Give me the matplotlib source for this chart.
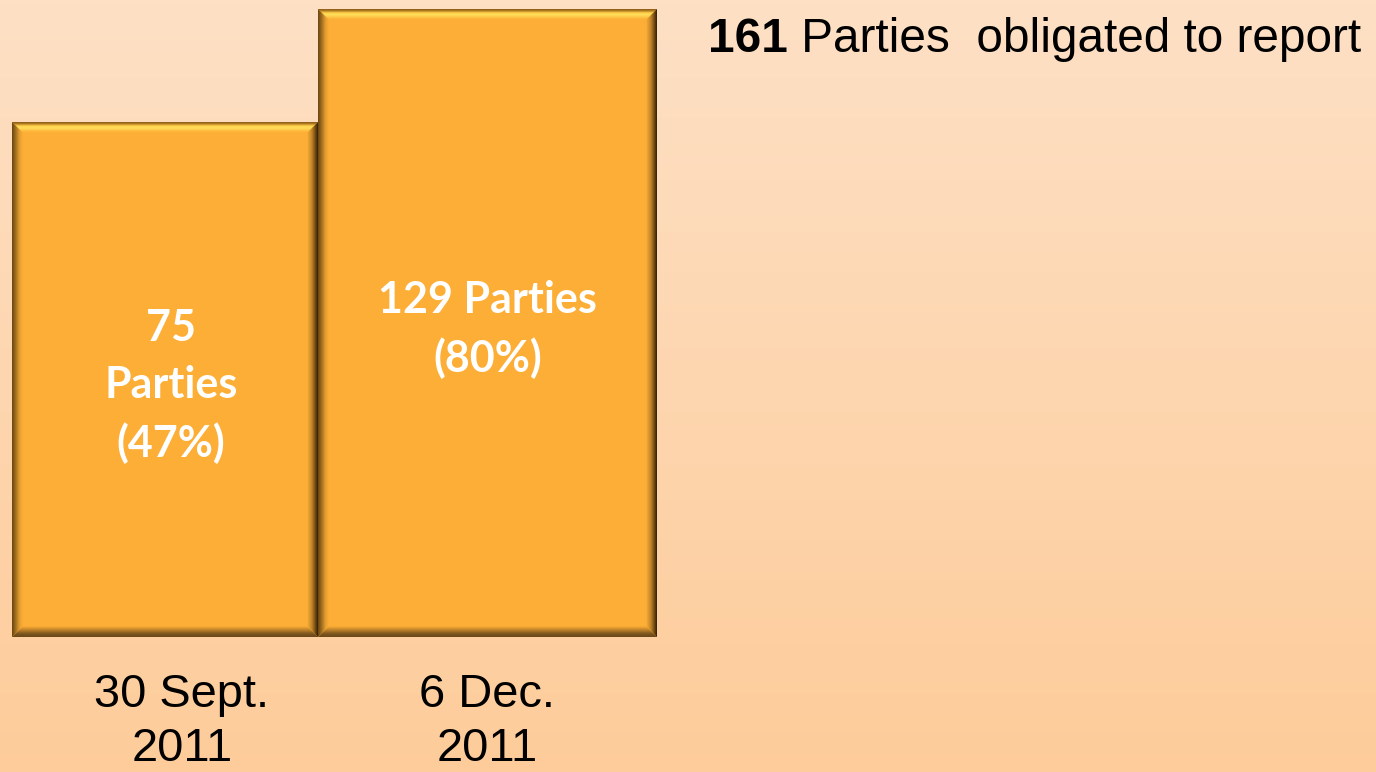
import numpy as np
import matplotlib
matplotlib.use("Agg")
import matplotlib.pyplot as plt
from matplotlib.colors import LinearSegmentedColormap
from matplotlib.patches import Polygon

# ---- data ----
categories = ["30 Sept.\n2011", "6 Dec.\n2011"]
parties = [75, 129]
percent = [47, 80]
total_obligated = 161

# ---- layout ----
W, H = 1376, 772
DPI = 100
fig = plt.figure(figsize=(W / DPI, H / DPI), dpi=DPI)

# background gradient
bg = fig.add_axes([0, 0, 1, 1], zorder=-2)
grad = np.linspace(0, 1, 256).reshape(-1, 1)
bg_cmap = LinearSegmentedColormap.from_list("bg", ["#FEE0C5", "#FDCC9A"])
bg.imshow(grad, aspect="auto", cmap=bg_cmap, extent=(0, 1, 0, 1), origin="upper")
bg.set_axis_off()

# main axes: bottom at pixel 637 from top, top at figure top
ax_bottom_px = 637
ax = fig.add_axes([0, (H - ax_bottom_px) / H, 1, ax_bottom_px / H], zorder=0)
ax.patch.set_alpha(0)
base = -171.1
ax.set_ylim(base, 133.3)
ax.set_xlim(0, W)
ax.set_axis_off()

lefts = [12, 318]
widths = [306, 339]
face = "#FDAE36"
bars = ax.bar(lefts, [p - base for p in parties], bottom=base, width=widths,
              align="edge", color=face, edgecolor="none", zorder=1)

# pixel overlay for bevels
ov = fig.add_axes([0, 0, 1, 1], zorder=1)
ov.set_xlim(0, W)
ov.set_ylim(H, 0)
ov.set_axis_off()
ov.patch.set_alpha(0)

bw = 11  # bevel width px
cm_top = LinearSegmentedColormap.from_list(
    "top", [(0, "#8A5A18"), (0.15, "#B07A20"), (0.35, "#FFD24A"), (0.55, "#FFDE5C"), (0.85, "#FDB73A"), (1, face)])
cm_left = LinearSegmentedColormap.from_list(
    "left", [(0, "#6A4512"), (0.3, "#9A6A1E"), (0.7, "#E59E30"), (1, face)])
cm_right = LinearSegmentedColormap.from_list(
    "right", [(0, "#2E1E06"), (0.2, "#6A4512"), (0.55, "#C08428"), (1, face)])
cm_bottom = LinearSegmentedColormap.from_list(
    "bottom", [(0, "#6A4818"), (0.3, "#7E5620"), (0.7, "#C9892C"), (1, face)])


def grad_poly(poly, cmap, direction, extent):
    n = 64
    t = np.linspace(0, 1, n)
    if direction in ("down", "up"):
        img = t.reshape(-1, 1) if direction == "down" else t[::-1].reshape(-1, 1)
    else:
        img = t.reshape(1, -1) if direction == "right" else t[::-1].reshape(1, -1)
    x0, x1, y0, y1 = extent
    im = ov.imshow(img, cmap=cmap, vmin=0, vmax=1, aspect="auto",
                   extent=(x0, x1, y1, y0), origin="upper", interpolation="bilinear", zorder=2)
    p = Polygon(poly, closed=True, facecolor="none", edgecolor="none", transform=ov.transData)
    ov.add_patch(p)
    im.set_clip_path(p)


fig.canvas.draw()
for rect in bars:
    bb = rect.get_bbox()
    (dx0, dy0), (dx1, dy1) = ax.transData.transform([(bb.x0, bb.y0), (bb.x1, bb.y1)])
    x0, x1 = dx0, dx1
    yt, yb = H - dy1, H - dy0
    grad_poly([(x0, yt), (x1, yt), (x1 - bw, yt + bw), (x0 + bw, yt + bw)], cm_top, "down",
              (x0, x1, yt, yt + bw))
    grad_poly([(x0, yb), (x1, yb), (x1 - bw, yb - bw), (x0 + bw, yb - bw)], cm_bottom, "up",
              (x0, x1, yb - bw, yb))
    grad_poly([(x0, yt), (x0 + bw, yt + bw), (x0 + bw, yb - bw), (x0, yb)], cm_left, "right",
              (x0, x0 + bw, yt, yb))
    grad_poly([(x1, yt), (x1 - bw, yt + bw), (x1 - bw, yb - bw), (x1, yb)], cm_right, "left",
              (x1 - bw, x1, yt, yb))

# bar labels
bar_font = dict(family=["Lato", "DejaVu Sans"], weight="bold", color="white", fontsize=31)
label_texts = [f"{parties[0]}\nParties\n({percent[0]}%)", f"{parties[1]} Parties\n({percent[1]}%)"]
for rect, txt, dxo in zip(bars, label_texts, [6, 0]):
    cx = rect.get_x() + rect.get_width() / 2 + dxo
    cy = rect.get_y() + rect.get_height() / 2 - 3.2
    ax.text(cx, cy, txt, ha="center", va="center", linespacing=1.5, zorder=5, **bar_font)

# category labels
cat_font = dict(family=["Liberation Sans", "DejaVu Sans"], color="black", fontsize=33.8)
for xc, cat in zip([182, 487], categories):
    ov.text(xc, 722, cat, ha="center", va="center", linespacing=1.3, **cat_font)

# top annotation
top_font = dict(cat_font, fontsize=34.4)
r = fig.canvas.get_renderer()
t1 = ov.text(708, 40, f"{total_obligated}", ha="left", va="center", fontweight="bold", **top_font)
fig.canvas.draw()
ext = t1.get_window_extent(r)
ov.text(ext.x1, 40, " Parties  obligated to report", ha="left", va="center", **top_font)

fig.savefig("out.png", dpi=DPI)
